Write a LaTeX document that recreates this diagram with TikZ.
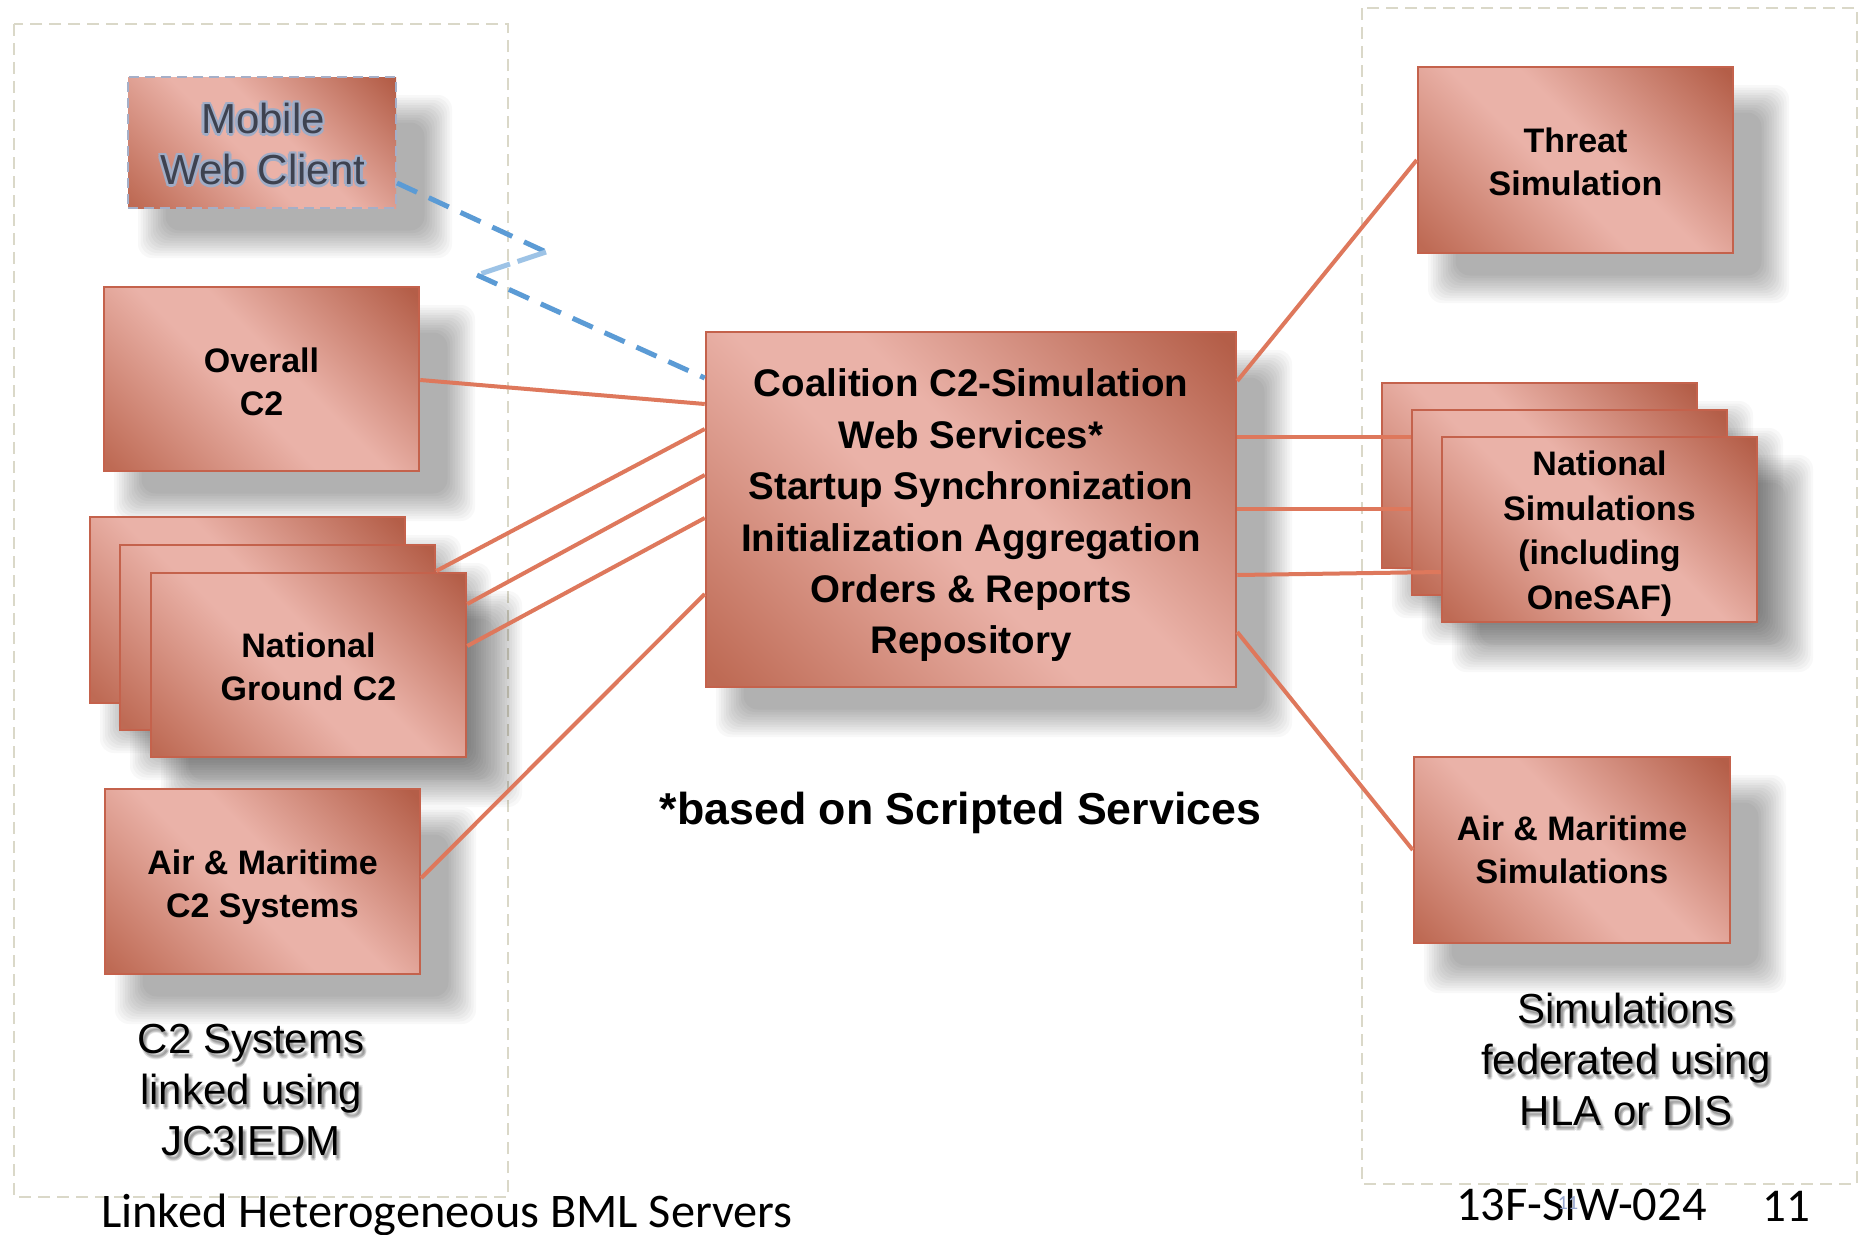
\documentclass[tikz,border=0pt]{standalone}
\usepackage{fontspec}
\setmainfont{Liberation Sans}
\newfontfamily\calfont{Carlito}
\usetikzlibrary{calc}

\definecolor{bxdarkA}{RGB}{190,106,84}
\definecolor{bxdarkB}{RGB}{180,94,72}
\definecolor{bxlight}{RGB}{234,178,168}
\definecolor{bxborder}{RGB}{196,98,76}
\definecolor{conncol}{RGB}{222,120,92}
\definecolor{dashblue}{RGB}{91,155,213}
\definecolor{dashlight}{RGB}{157,195,230}
\definecolor{contcol}{RGB}{218,216,200}
\definecolor{mobborder}{RGB}{165,175,200}
\definecolor{mobhalo}{RGB}{160,172,198}
\definecolor{mobtext}{RGB}{62,66,80}
\definecolor{ghosttext}{RGB}{150,165,205}

\pgfdeclarehorizontalshading{boxshade}{100bp}{color(0bp)=(bxdarkA); color(16bp)=(bxdarkA); color(45bp)=(bxlight); color(55bp)=(bxlight); color(84bp)=(bxdarkB); color(100bp)=(bxdarkB)}

\newcommand\boxfont{\fontsize{34}{43}\selectfont\bfseries}
\newcommand\nsfont{\fontsize{34}{44.5}\selectfont\bfseries}
\newcommand\coalfont{\fontsize{38.5}{51.4}\selectfont\bfseries}
\newcommand\mobfont{\fontsize{42}{51}\selectfont}
\newcommand\lblfont{\fontsize{42}{51}\selectfont}

% soft shadow + box node: [options] name, cx, cy, w, h
\newcommand\simnode[6][]{%
  \foreach \k in {0,...,11}{%
    \fill[black,opacity=0.028,rounded corners=14pt]
      (#3-#5/2+10+2.5*\k,#4-#6/2+18+2.5*\k) rectangle (#3+#5/2+56-2.5*\k,#4+#6/2+50-2.5*\k);}
  \node[simbox,minimum width=#5pt,minimum height=#6pt,#1] (#2) at (#3,#4) {};
}

% label with soft text shadow: name, cx, cy, text
\newcommand\shlabel[4]{%
  \foreach \dx/\dy in {3/4,2/3,4/5,2/5,4/3,3/6}{%
    \node[lbl,text=black,opacity=0.08] at (#2+\dx,#3+\dy) {#4};}
  \node[lbl] (#1) at (#2,#3) {#4};
}

\begin{document}
\begin{tikzpicture}[x=1pt,y=-1pt,
  simbox/.style={draw=bxborder,line width=2.5pt,shade,shading=boxshade,shading angle=45,inner sep=0pt},
  boxtxt/.style={inner sep=0pt,align=center,font=\boxfont,text=black},
  lbl/.style={align=center,font=\lblfont,inner sep=0pt,text=black},
  container/.style={draw=contcol,line width=2pt,dash pattern=on 12pt off 7pt},
  conn/.style={draw=conncol,line width=4pt},
  wireless/.style={draw=dashblue,line width=5pt,dash pattern=on 22pt off 13pt},
]
\useasboundingbox (0,0) rectangle (1860,1234);
\fill[white] (0,0) rectangle (1860,1234);

% containers
\draw[container] (14,24) rectangle (508,1197);
\draw[container] (1362,8) rectangle (1857,1184);

% left column
\simnode[draw=mobborder,dash pattern=on 10pt off 6pt,line width=2pt]{mobile}{262}{142.5}{268}{131}
\foreach \dx/\dy in {2.5/0,-2.5/0,0/2.5,0/-2.5,1.8/1.8,-1.8/1.8,1.8/-1.8,-1.8/-1.8}{%
  \node[align=center,font=\mobfont,text=mobhalo,inner sep=0pt] at (263+\dx,144+\dy) {Mobile\\Web Client};}
\node[align=center,font=\mobfont,text=mobtext,inner sep=0pt] (mobile-t) at (263,144) {Mobile\\Web Client};

\simnode{overall}{261.5}{379}{315}{184}
\node[boxtxt] (overall-t) at ($(overall)+(0,2.4)$) {Overall\\C2};
\simnode{ngc2a}{247.5}{610}{315}{186}
\simnode{ngc2b}{277.5}{637.5}{315}{185}
\simnode{ngc2}{308.5}{665}{315}{184}
\node[boxtxt] (ngc2-t) at ($(ngc2)+(0,1.5)$) {National\\Ground C2};
\simnode{amc2}{262.5}{881.5}{315}{185}
\node[boxtxt] (amc2-t) at ($(amc2)+(0,5.5)$) {Air \& Maritime\\C2 Systems};

% centre
\simnode{coal}{971}{509.5}{530}{355}
\node[boxtxt,font=\coalfont] (coal-t) at ($(coal)+(0,6)$) {Coalition C2-Simulation\\Web Services*\\Startup Synchronization\\Initialization Aggregation\\Orders \& Reports\\Repository};

% right column
\simnode{threat}{1575.5}{160}{315}{186}
\node[boxtxt] (threat-t) at ($(threat)+(0,1.5)$) {Threat\\Simulation};
\simnode{nsa}{1539.5}{475.5}{315}{185}
\simnode{nsb}{1569.5}{502.5}{315}{185}
\simnode{ns}{1599.5}{529.5}{315}{185}
\node[boxtxt,font=\nsfont] (ns-t) at ($(ns)+(0,4)$) {National\\Simulations\\(including\\OneSAF)};
\simnode{amsim}{1572}{850}{316}{186}
\node[boxtxt] (amsim-t) at (amsim) {Air \& Maritime\\Simulations};

% connectors
\draw[conn] (overall.east |- 0,380) -- (coal.west |- 0,404);
\draw[conn] (ngc2b.east |- 0,571) -- (coal.west |- 0,429);
\draw[conn] (ngc2.east |- 0,604) -- (coal.west |- 0,475);
\draw[conn] (ngc2.east |- 0,646) -- (coal.west |- 0,518);
\draw[conn] (amc2.east |- 0,878) -- (coal.west |- 0,594);
\draw[conn] (coal.east |- 0,381) -- (threat.west |- 0,160);
\draw[conn] (coal.east |- 0,437) -- (nsb.west |- 0,437);
\draw[conn] (coal.east |- 0,509) -- (nsb.west |- 0,509);
\draw[conn] (coal.east |- 0,575) -- (ns.west |- 0,572);
\draw[conn] (coal.east |- 0,632) -- (amsim.west |- 0,850);

% wireless link
\coordinate (zz1) at (546,252);
\coordinate (zz2) at (477,275);
\draw[wireless] (mobile.east |- 0,183) -- (zz1);
\draw[wireless,draw=dashlight,dash pattern=on 30pt off 8pt] (zz1) -- (zz2);
\draw[wireless] (zz2) -- (coal.west |- 0,378);

% free labels
\node[font=\fontsize{44.7}{50}\selectfont\bfseries,anchor=base,inner sep=0pt] (note) at (960.5,824) {*based on Scripted Services};
\shlabel{c2lbl}{251}{1090}{C2 Systems\\linked using\\JC3IEDM}
\shlabel{simlbl}{1626}{1059}{Simulations\\federated using\\HLA or DIS}

% footer
\node[font=\calfont\fontsize{48.3}{50}\selectfont,anchor=base west,inner sep=0pt] (footer) at (101,1227) {Linked Heterogeneous BML Servers};
\node[font=\calfont\fontsize{48.5}{50}\selectfont,anchor=base west,inner sep=0pt] (paperid) at (1456,1220) {13F-SIW-024};
\node[font=\calfont\fontsize{20}{22}\selectfont,text=ghosttext,inner sep=0pt] (ghost) at (1568,1203) {11};
\node[font=\calfont\fontsize{47}{50}\selectfont,anchor=base west,inner sep=0pt] (pageno) at (1762,1221) {11};
\end{tikzpicture}
\end{document}
